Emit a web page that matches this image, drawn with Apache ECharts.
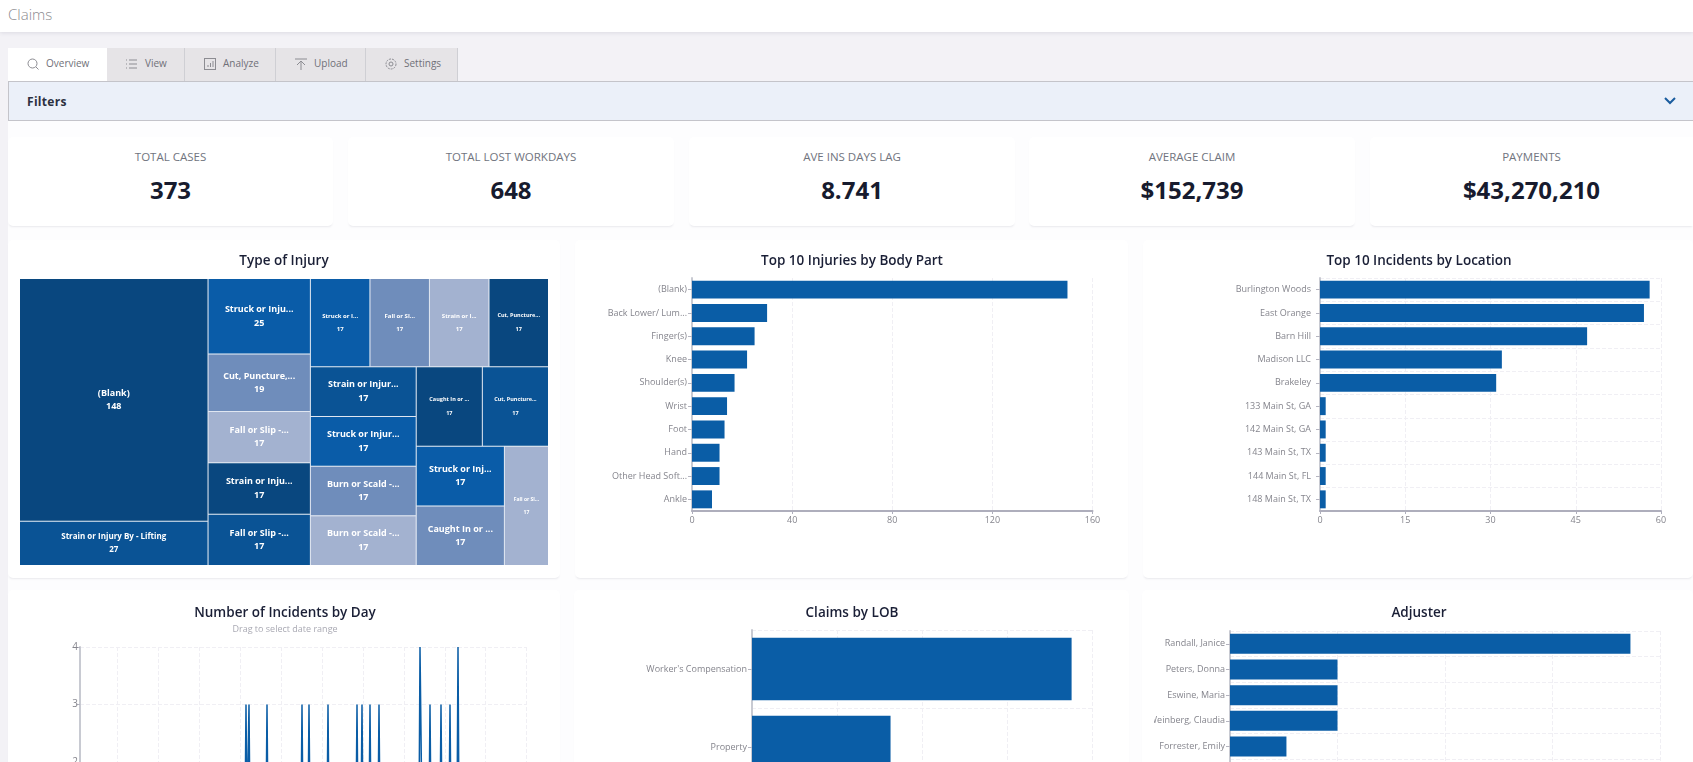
<!DOCTYPE html>
<html>
<head>
<meta charset="utf-8">
<title>Claims</title>
<script src="https://cdn.jsdelivr.net/npm/echarts@6/dist/echarts.min.js"></script>
<style>
  html, body { margin: 0; padding: 0; width: 1693px; height: 762px; overflow: hidden; background: #f3f2f6; font-family: "Open Sans", sans-serif; }
  .abs { position: absolute; }
  #top { left: 0; top: 0; width: 1693px; height: 32px; background: #fff; box-shadow: 0 1px 4px rgba(60,60,90,.12); }
  #top span { position: absolute; left: 8px; top: 4px; font-size: 15px; font-weight: 300; color: #8a8a8e; }
  .tab { top: 48px; height: 33px; background: #e6e4e7; border-right: 1px solid #cfcfd4; box-sizing: border-box; font-size: 10px; color: #707078; line-height: 31px; white-space: nowrap; }
  .tab.on { background: #fff; border-right: 0; }
  .tab svg { position: absolute; top: 9px; width: 14px; height: 14px; fill: none; stroke: #8c8c92; stroke-width: 1; }
  .tab span { position: absolute; top: 0; }
  #filters { left: 8px; top: 81px; width: 1685px; height: 40px; background: #ebf0f9; border-top: 1px solid #c4c4ca; border-bottom: 1px solid #c4c4ca; border-left: 1px solid #c4c4ca; box-sizing: border-box; }
  #filters b { position: absolute; left: 18px; top: 11px; font-size: 12px; font-weight: 700; color: #2c3040; letter-spacing: .3px; }
  #filters svg { position: absolute; left: 1655px; top: 15px; width: 12px; height: 8px; fill: none; stroke: #1a5c9e; stroke-width: 2; }
  #content { left: 8px; top: 121px; width: 1685px; height: 641px; background: #fdfdfe; }
  .card { background: #fff; border-radius: 5px; box-shadow: 0 2px 2px -1px rgba(60,60,90,.10); }
  .kpi { top: 137px; height: 89px; text-align: center; }
  .kpi .lbl { position: absolute; left: 0; right: 0; top: 12px; font-size: 11.5px; color: #70747e; }
  .kpi .val { position: absolute; left: 0; right: 0; top: 35px; font-size: 24px; font-weight: 700; color: #171b2e; line-height: 36px; }
</style>
</head>
<body>
<div id="top" class="abs"><span>Claims</span></div>

<div class="abs tab on" style="left:8px;width:99px">
  <svg style="left:18px" viewBox="0 0 14 14"><circle cx="6.5" cy="6.5" r="4.5"/><path d="M10 10l2.5 2.5"/></svg><span style="left:38px">Overview</span></div>
<div class="abs tab" style="left:107px;width:78px">
  <svg style="left:18px" viewBox="0 0 14 14"><path d="M1 3h1M4 3h8M1 7h1M4 7h8M1 11h1M4 11h8"/></svg><span style="left:38px">View</span></div>
<div class="abs tab" style="left:185px;width:91px">
  <svg style="left:18px" viewBox="0 0 14 14"><rect x="1.5" y="1.5" width="11" height="11"/><path d="M5 10V8M7.5 10V6M10 10V4"/></svg><span style="left:38px">Analyze</span></div>
<div class="abs tab" style="left:276px;width:90px">
  <svg style="left:18px" viewBox="0 0 14 14"><path d="M1 2h12M7 13V4M3 8l4-4 4 4"/></svg><span style="left:38px">Upload</span></div>
<div class="abs tab" style="left:366px;width:92px">
  <svg style="left:18px" viewBox="0 0 14 14"><circle cx="7" cy="7" r="2"/><circle cx="7" cy="7" r="5" stroke-dasharray="2 1"/></svg><span style="left:38px">Settings</span></div>

<div id="filters" class="abs"><b>Filters</b><svg viewBox="0 0 12 8"><path d="M1 1l5 5 5-5"/></svg></div>
<div id="content" class="abs"></div>

<div class="abs card kpi" style="left:8px;width:325px"><div class="lbl">TOTAL CASES</div><div class="val">373</div></div>
<div class="abs card kpi" style="left:348px;width:326px"><div class="lbl">TOTAL LOST WORKDAYS</div><div class="val">648</div></div>
<div class="abs card kpi" style="left:689px;width:326px"><div class="lbl">AVE INS DAYS LAG</div><div class="val">8.741</div></div>
<div class="abs card kpi" style="left:1029px;width:326px"><div class="lbl">AVERAGE CLAIM</div><div class="val">$152,739</div></div>
<div class="abs card kpi" style="left:1370px;width:323px;border-radius:5px 0 0 5px"><div class="lbl">PAYMENTS</div><div class="val">$43,270,210</div></div>

<div id="ChartInjury" class="abs card" style="left:8px;top:240px;width:552px;height:338px"></div>
<div id="ChartBody" class="abs card" style="left:575px;top:240px;width:553px;height:338px"></div>
<div id="ChartLocation" class="abs card" style="left:1143px;top:240px;width:550px;height:338px"></div>
<div id="ChartDay" class="abs card" style="left:8px;top:590px;width:552px;height:320px"></div>
<div id="ChartLob" class="abs card" style="left:574px;top:590px;width:555px;height:320px"></div>
<div class="abs card" style="left:1142px;top:590px;width:551px;height:320px"></div>
<div id="ChartAdjuster" class="abs" style="left:1154px;top:590px;width:539px;height:320px"></div>

<script>
var injuryNames = ['(Blank)', 'Strain or Injury By - Lifting', 'Struck or Inju...', 'Cut, Puncture,...', 'Fall or Slip -...', 'Strain or Inju...', 'Fall or Slip -...', 'Struck or I...', 'Fall or Sl...', 'Strain or I...', 'Cut, Puncture...', 'Strain or Injur...', 'Struck or Injur...', 'Burn or Scald -...', 'Burn or Scald -...', 'Caught In or ...', 'Cut, Puncture...', 'Struck or Inj...', 'Caught In or ...', 'Fall or Sl...'];
var injuryValues = [148, 27, 25, 19, 17, 17, 17, 17, 17, 17, 17, 17, 17, 17, 17, 17, 17, 17, 17, 17];

var bodyParts = ['(Blank)', 'Back Lower/ Lum...', 'Finger(s)', 'Knee', 'Shoulder(s)', 'Wrist', 'Foot', 'Hand', 'Other Head Soft...', 'Ankle'];
var bodyValues = [150, 30, 25, 22, 17, 14, 13, 11, 11, 8];

var locations = ['Burlington Woods', 'East Orange', 'Barn Hill', 'Madison LLC', 'Brakeley', '133 Main St, GA', '142 Main St, GA', '143 Main St, TX', '144 Main St, FL', '148 Main St, TX'];
var locationValues = [58, 57, 47, 32, 31, 1, 1, 1, 1, 1];

// only the peaks can be seen, the bottom of this chart is below the fold
var incidentDays = [0, 165, 166, 167, 168, 169, 170, 186, 187, 188, 221, 222, 223, 228, 229, 230, 247, 248, 249, 276, 277, 278, 281, 282, 283, 289, 290, 291, 298, 299, 300, 339, 340, 341, 342, 349, 350, 351, 360, 361, 362, 369, 370, 371, 377, 378, 379, 446];
var incidentCounts = [1, 1, 3, 1, 1, 3, 1, 1, 3, 1, 1, 3, 1, 1, 3, 1, 1, 3, 1, 1, 3, 1, 1, 3, 1, 1, 3, 1, 1, 3, 1, 1, 4, 4, 1, 1, 3, 1, 1, 3, 1, 1, 3, 1, 1, 4, 1, 1];
var dayTicks = [37, 78, 119, 160, 201, 242, 283, 324, 365, 405, 446];
var countTicks = [0, 1, 2, 3, 4];

var lobNames = ["Worker's Compensation", 'Property'];
var lobValues = [376, 163];

var adjusters = ['Randall, Janice', 'Peters, Donna', 'Eswine, Maria', 'Weinberg, Claudia', 'Forrester, Emily', ''];
var adjusterValues = [74.5, 20, 20, 20, 10.5, 6];

var BLUE = '#0a5da6';
var TITLE_FONT = { fontFamily: 'Open Sans', fontSize: 13.5, fontWeight: 600, color: '#1a1f36' };
var CHART_RESIZE = [];

function mkChart(id, option) {
  var myChart = echarts.init(document.getElementById(id));
  myChart.setOption(option);
  CHART_RESIZE.push(function () {
    myChart.resize()
  })
}

function mkTitle(text, center, top) {
  return { text: text, left: center, top: top, padding: 0, textAlign: 'center', textStyle: TITLE_FONT };
}

function dashed() {
  return { show: true, lineStyle: { color: '#f0eff4', type: 'dashed', width: 1 } };
}

function hBar(title, titleCenter, titleTop, grid, names, values, xMax, xStep, hLines, barGap, labelMargin) {
  grid.outerBoundsMode = 'none';
  return {
    animation: false,
    title: mkTitle(title, titleCenter, titleTop),
    grid: grid,
    xAxis: {
      type: 'value', min: 0, max: xMax, interval: xStep,
      axisLine: { show: true, lineStyle: { color: '#aeaebc', width: 2 } },
      axisTick: { show: true, length: 3, lineStyle: { color: '#aeaebc' } },
      axisLabel: { color: '#85858d', fontFamily: 'Open Sans', fontSize: 9, margin: 5 },
      splitLine: dashed()
    },
    yAxis: {
      type: 'category', inverse: true, data: names,
      axisLine: { show: true, lineStyle: { color: '#c8cad2', width: 2 } },
      axisTick: { show: true, length: 4, alignWithLabel: true, lineStyle: { color: '#b5b5c0' } },
      axisLabel: { color: '#85858d', fontFamily: 'Open Sans', fontSize: 9, margin: labelMargin, interval: 0 },
      splitLine: hLines ? dashed() : { show: false }
    },
    series: [{ type: 'bar', data: values, barCategoryGap: barGap, itemStyle: { color: BLUE } }]
  };
}

function chartInjury() {
  var palette = ['#09477f', '#0a5395', '#0a5ca8', '#6f8dbb', '#a3b2d0'];
  var labelSizes = [9, 8, 9, 9, 9, 9, 9, 6, 6, 6, 5.5, 9, 9, 9, 9, 5.5, 5.5, 9, 9, 5];
  var items = injuryNames.map(function (name, i) {
    return {
      name: name,
      value: injuryValues[i],
      itemStyle: { color: palette[i % palette.length] },
      label: { fontSize: labelSizes[i], lineHeight: 13.5 }
    };
  });
  // the treemap lays tied values out last to first
  items = items.slice(0, 4).concat(items.slice(4).reverse());
  mkChart('ChartInjury', {
    animation: false,
    title: mkTitle('Type of Injury', 276, 14),
    series: [{
      type: 'treemap',
      left: 12, top: 39, width: 528, height: 286,
      roam: false, nodeClick: false,
      breadcrumb: { show: false },
      label: { show: true, formatter: '{b}\n{c}', color: '#fff', fontFamily: 'Open Sans', fontWeight: 700 },
      levels: [{
        itemStyle: { borderWidth: 0, gapWidth: 1, borderColor: '#dfe6f1' }
      }],
      data: items
    }]
  });
}

function chartDay() {
  var points = incidentDays.map(function (d, i) {
    return [d, incidentCounts[i]];
  });
  mkChart('ChartDay', {
    animation: false,
    title: {
      text: 'Number of Incidents by Day', subtext: 'Drag to select date range',
      left: 277, top: 16, padding: 0, textAlign: 'center', itemGap: 5, textStyle: TITLE_FONT,
      subtextStyle: { fontFamily: 'Open Sans', fontSize: 9, color: '#a9a9b3' }
    },
    grid: { left: 72, top: 57, width: 446, height: 230, outerBoundsMode: 'none' },
    xAxis: {
      type: 'value', min: 0, max: 446,
      axisLine: { show: true, lineStyle: { color: '#aeaebc', width: 2 } },
      axisTick: { show: true, length: 3, customValues: dayTicks },
      axisLabel: { show: false },
      splitLine: dashed()
    },
    yAxis: {
      type: 'value', min: countTicks[0], max: countTicks[countTicks.length - 1], interval: 1,
      axisLine: { show: true, lineStyle: { color: '#c8cad2', width: 2 } },
      axisTick: { show: true, length: 4, lineStyle: { color: '#b5b5c0' } },
      axisLabel: { color: '#85858d', fontFamily: 'Open Sans', fontSize: 10, margin: 2 },
      splitLine: dashed()
    },
    series: [{ type: 'line', data: points, showSymbol: false, lineStyle: { color: BLUE, width: 1.5 } }]
  });
}

chartInjury();
mkChart('ChartBody', hBar('Top 10 Injuries by Body Part', 277, 14, { left: 117, top: 38, width: 400.5, height: 233 }, bodyParts, bodyValues, 160, 40, false, '23%', 5));
mkChart('ChartLocation', hBar('Top 10 Incidents by Location', 276, 14, { left: 177, top: 38, width: 341, height: 233 }, locations, locationValues, 60, 15, true, '23%', 9));
chartDay();
mkChart('ChartLob', hBar('Claims by LOB', 278, 16, { left: 178, top: 40, width: 340, height: 156 }, lobNames, lobValues, 400, 100, true, '20%', 5));
mkChart('ChartAdjuster', hBar('Adjuster', 265, 16, { left: 76, top: 41, width: 430, height: 154 }, adjusters, adjusterValues, 80, 20, true, '22%', 5));

window.addEventListener('resize', function () {
  CHART_RESIZE.forEach(function (cb) {
    cb()
  })
})
</script>
</body>
</html>
